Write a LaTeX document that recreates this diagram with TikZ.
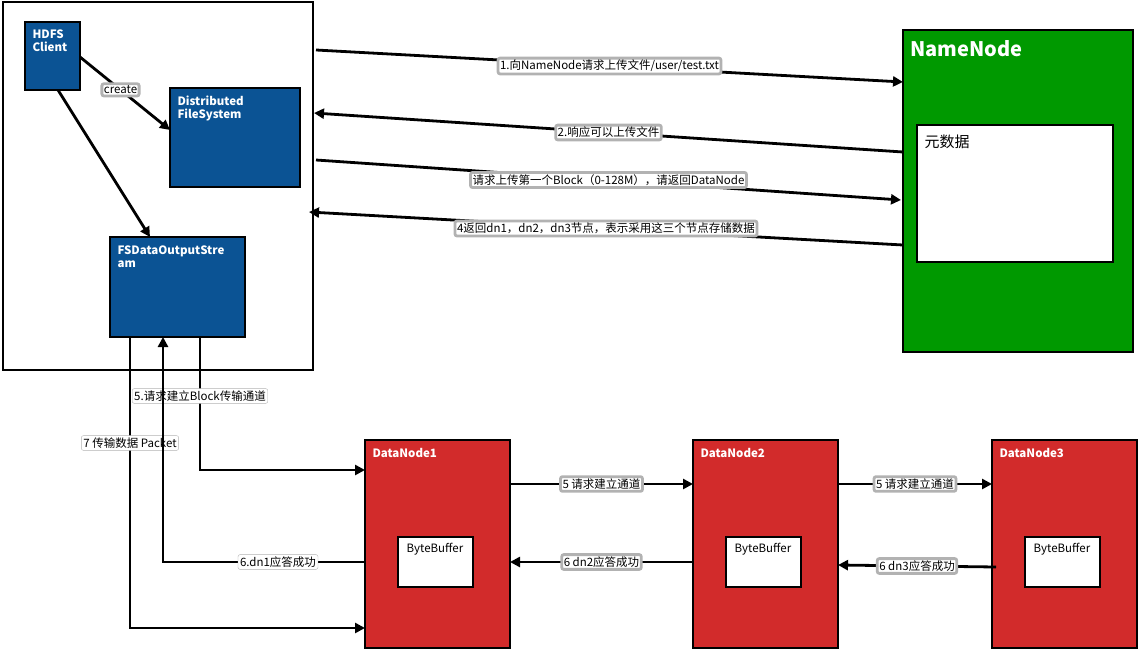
\documentclass[tikz,border=0pt]{standalone}
\usepackage{fontspec}
\setmainfont{Noto Sans CJK SC}
\usetikzlibrary{arrows.meta}
\definecolor{hblue}{HTML}{0B5394}
\definecolor{hgreen}{HTML}{009900}
\definecolor{hred}{HTML}{D22B2B}
\begin{document}
\begin{tikzpicture}[x=1pt,y=-1pt,
  box/.style={draw=black,line width=1.8pt},
  lab/.style={fill=white,draw=gray!60,rounded corners=2pt,inner sep=2pt,font=\fontsize{11.5}{13}\selectfont},
  arr/.style={line width=2.8pt,-{Triangle[length=10pt,width=10pt]}},
  wt/.style={text=white,font=\bfseries\fontsize{11.5}{13}\selectfont,anchor=north west,align=left}]
\useasboundingbox (0,0) rectangle (1138,653);
\draw[line width=1.4pt] (3,2) rectangle (313,370);
% blue boxes
\draw[box,fill=hblue] (25,22) rectangle (80,90);
\node[wt] (cl) at (29,26) {HDFS\\Client};
\coordinate (clr) at (80,57); \coordinate (clb) at (58,90);
\draw[box,fill=hblue] (170,88) rectangle (300,187);
\node[wt] (dfs) at (174,92) {Distributed\\FileSystem};
\coordinate (dfsl) at (170,130);
\draw[box,fill=hblue] (110,237) rectangle (245,337);
\node[wt] (fs) at (114,242) {FSDataOutputStre\\am};
\coordinate (fst) at (150,237);
\draw[arr] (clr) -- node[lab,pos=0.45]{create} (dfsl);
\draw[arr] (clb) -- (fst);
% NameNode
\draw[box,fill=hgreen] (903,30) rectangle (1133,352);
\node[text=white,font=\bfseries\fontsize{20}{22}\selectfont,anchor=north west] (nn) at (907,37) {NameNode};
\draw[box,fill=white] (917,125) rectangle (1113,262);
\node[anchor=north west,font=\fontsize{15}{17}\selectfont] (md) at (921,131) {元数据};
\coordinate (a1s) at (316,50); \coordinate (a1e) at (903,82);
\coordinate (a2s) at (903,152); \coordinate (a2e) at (314,113);
\coordinate (a3s) at (316,160); \coordinate (a3e) at (901,200);
\coordinate (a4s) at (903,245); \coordinate (a4e) at (309,212);
\draw[arr] (a1s) -- node[lab]{1.向NameNode请求上传文件/user/test.txt} (a1e);
\draw[arr] (a2s) -- node[lab]{2.响应可以上传文件} (a2e);
\draw[arr] (a3s) -- node[lab]{请求上传第一个Block（0-128M），请返回DataNode} (a3e);
\draw[arr] (a4s) -- node[lab]{4返回dn1，dn2，dn3节点，表示采用这三个节点存储数据} (a4e);
% DataNodes
\foreach \n/\x in {1/365,2/693,3/992}{
  \draw[box,fill=hred] (\x,440) rectangle ++(145,208);
  \node[wt] (dn\n) at (\x+4,445) {DataNode\n};
  \draw[box,fill=white] (\x+33,537) rectangle ++(75,50);
  \node[anchor=north,font=\fontsize{11.5}{13}\selectfont] (bb\n) at (\x+70,540) {ByteBuffer};
}
\coordinate (d1r) at (510,484); \coordinate (d2l) at (693,484);
\coordinate (d2r) at (838,484); \coordinate (d3l) at (992,484);
\draw[arr] (d1r) -- node[lab]{5 请求建立通道} (d2l);
\draw[arr] (d2r) -- node[lab]{5 请求建立通道} (d3l);
\coordinate (e2l) at (693,562); \coordinate (e1r) at (510,562);
\coordinate (e3l) at (996,567); \coordinate (e2r) at (838,565);
\draw[arr] (e2l) -- node[lab]{6 dn2应答成功} (e1r);
\draw[arr] (e3l) -- node[lab]{6 dn3应答成功} (e2r);
% FSData links
\coordinate (p5) at (200,337); \coordinate (p5e) at (365,470);
\draw[arr] (p5) -- (200,470) -- (p5e);
\node[lab] (l5) at (200,396) {5.请求建立Block传输通道};
\coordinate (p7) at (130,337); \coordinate (p7e) at (365,628);
\draw[arr] (p7) -- (130,628) -- (p7e);
\node[lab] (l7) at (130,443) {7 传输数据  Packet};
\coordinate (p6) at (365,562); \coordinate (p6e) at (163,337);
\draw[arr] (p6) -- (163,562) -- (p6e);
\node[lab] (l6) at (278,562) {6.dn1应答成功};
\end{tikzpicture}
\end{document}
